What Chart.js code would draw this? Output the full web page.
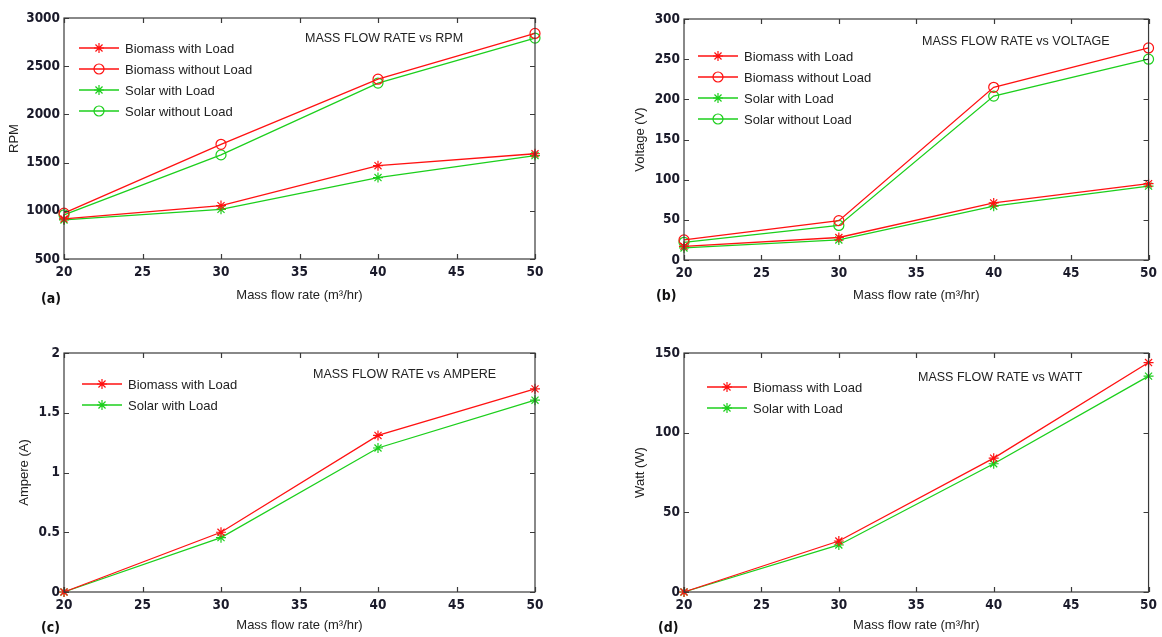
<!DOCTYPE html>
<html>
<head>
<meta charset="utf-8">
<script src="https://cdn.jsdelivr.net/npm/chart.js@4.4.0/dist/chart.umd.min.js"></script>
<style>
body { margin: 0; background: #fff; width: 1162px; height: 637px; position: relative; overflow: hidden; }
.panel { position: absolute; }
.tag { position: absolute; font: bold 14px 'DejaVu Sans Condensed', sans-serif; color: #111; }
</style>
</head>
<body>
<div class="panel" style="left:0;top:0"><canvas id="grafRpm" width="580" height="318"></canvas></div>
<div class="panel" style="left:580px;top:0"><canvas id="grafVolt" width="582" height="318"></canvas></div>
<div class="panel" style="left:0;top:330px"><canvas id="grafAmp" width="580" height="307"></canvas></div>
<div class="panel" style="left:580px;top:330px"><canvas id="grafWatt" width="582" height="307"></canvas></div>
<div class="tag" style="left:41px;top:290px">(a)</div>
<div class="tag" style="left:656px;top:287px">(b)</div>
<div class="tag" style="left:41px;top:619px">(c)</div>
<div class="tag" style="left:658px;top:619px">(d)</div>
<script>
// Datos
const flujo = [20, 30, 40, 50];

const rpmBiomasaCarga = [916, 1054, 1468, 1592];
const rpmBiomasaSinCarga = [975, 1690, 2365, 2840];
const rpmSolarCarga = [905, 1015, 1345, 1573];
const rpmSolarSinCarga = [958, 1580, 2325, 2792];

const voltBiomasaCarga = [17, 28, 71, 95];
const voltBiomasaSinCarga = [25, 49, 215, 264];
const voltSolarCarga = [15, 25, 67, 92];
const voltSolarSinCarga = [22, 43, 204, 250];

const ampBiomasaCarga = [0, 0.5, 1.31, 1.7];
const ampSolarCarga = [0, 0.455, 1.205, 1.605];

const wattBiomasaCarga = [0, 32, 84, 144];
const wattSolarCarga = [0, 29.5, 80.5, 135.5];

const ticksFlujo = { min: 20, max: 50, step: 5 };

const ROJO = '#ff1111';
const VERDE = '#1ccf1c';
const fuenteTicks = "'Liberation Sans Narrow', 'DejaVu Sans Condensed', sans-serif";
const fuenteTexto = "'Liberation Sans', Arial, sans-serif";

function puntos(valores) {
    return flujo.map((x, i) => ({ x: x, y: valores[i] }));
}

function serie(label, valores, color, estilo) {
    return {
        label: label,
        data: puntos(valores),
        borderColor: color,
        backgroundColor: color,
        borderWidth: 1.3,
        pointStyle: estilo,
        pointRadius: 5,
        pointBorderWidth: 1.2,
        pointBorderColor: color,
        pointBackgroundColor: 'rgba(0,0,0,0)',
        tension: 0,
        clip: false
    };
}

function marcador(ctx, estilo, x, y, r) {
    ctx.beginPath();
    if (estilo === 'circle') {
        ctx.arc(x, y, r, 0, Math.PI * 2);
    } else {
        for (let k = 0; k < 4; k++) {
            const ang = k * Math.PI / 4;
            ctx.moveTo(x - r * Math.cos(ang), y - r * Math.sin(ang));
            ctx.lineTo(x + r * Math.cos(ang), y + r * Math.sin(ang));
        }
    }
    ctx.stroke();
}

// Marco estilo MATLAB, titulo interno y leyenda
const marcoMatlab = {
    id: 'marcoMatlab',
    afterDatasetsDraw(chart, args, opts) {
        const { ctx, chartArea: a, scales } = chart;
        ctx.save();
        ctx.strokeStyle = '#3a3a3a';
        ctx.lineWidth = 1.2;
        ctx.strokeRect(a.left, a.top, a.right - a.left, a.bottom - a.top);
        ctx.beginPath();
        scales.x.ticks.forEach(t => {
            const px = Math.round(scales.x.getPixelForValue(t.value)) + 0.5;
            ctx.moveTo(px, a.bottom); ctx.lineTo(px, a.bottom - 5);
            ctx.moveTo(px, a.top); ctx.lineTo(px, a.top + 5);
        });
        scales.y.ticks.forEach(t => {
            const py = Math.round(scales.y.getPixelForValue(t.value)) + 0.5;
            ctx.moveTo(a.left, py); ctx.lineTo(a.left + 5, py);
            ctx.moveTo(a.right, py); ctx.lineTo(a.right - 5, py);
        });
        ctx.stroke();

        ctx.fillStyle = '#222';
        ctx.textBaseline = 'middle';
        ctx.font = '12.5px ' + fuenteTexto;
        ctx.fillText(opts.titulo, a.left + opts.tituloX, a.top + opts.tituloY);

        ctx.font = '13px ' + fuenteTexto;
        chart.data.datasets.forEach((ds, i) => {
            const y = a.top + opts.leyendaY + i * 21;
            const x0 = a.left + opts.leyendaX;
            ctx.strokeStyle = ds.borderColor;
            ctx.lineWidth = 1.3;
            ctx.beginPath();
            ctx.moveTo(x0, y); ctx.lineTo(x0 + 40, y);
            ctx.stroke();
            ctx.lineWidth = 1.2;
            marcador(ctx, ds.pointStyle, x0 + 20, y, 5);
            ctx.fillStyle = '#222';
            ctx.fillText(ds.label, x0 + 46, y + 1);
        });
        ctx.restore();
    }
};

const fmt = v => String(v);

function crearGrafico(id, datasets, eje, panel) {
    return new Chart(document.getElementById(id), {
        type: 'line',
        data: { datasets: datasets },
        options: {
            responsive: false,
            animation: false,
            layout: { padding: { top: panel.arriba, right: panel.derecha, left: panel.izq, bottom: 0 } },
            scales: {
                x: {
                    type: 'linear',
                    min: ticksFlujo.min,
                    max: ticksFlujo.max,
                    grid: { display: false, drawTicks: false },
                    border: { display: false },
                    ticks: { stepSize: ticksFlujo.step, padding: 5, color: '#1a1a2a', callback: fmt, font: { family: fuenteTicks, size: 13.5, weight: 'bold' } },
                    title: { display: true, text: 'Mass flow rate (m³/hr)', color: '#222', font: { family: fuenteTexto, size: 13 }, padding: { top: 0, bottom: panel.tituloXPad } },
                    afterFit: s => { s.height = panel.altoX; }
                },
                y: {
                    min: eje.min,
                    max: eje.max,
                    grid: { display: false, drawTicks: false },
                    border: { display: false },
                    ticks: { stepSize: eje.step, padding: 4, color: '#1a1a2a', callback: fmt, font: { family: fuenteTicks, size: 13.5, weight: 'bold' } },
                    title: { display: true, text: eje.titulo, color: '#222', font: { family: fuenteTexto, size: 13 }, padding: { top: panel.tituloYPad, bottom: 0 } },
                    afterFit: s => { s.width = panel.anchoY; }
                }
            },
            plugins: {
                legend: { display: false },
                tooltip: { enabled: false },
                marcoMatlab: panel.marco
            }
        },
        plugins: [marcoMatlab]
    });
}

crearGrafico('grafRpm', [
    serie('Biomass with Load', rpmBiomasaCarga, ROJO, 'star'),
    serie('Biomass without Load', rpmBiomasaSinCarga, ROJO, 'circle'),
    serie('Solar with Load', rpmSolarCarga, VERDE, 'star'),
    serie('Solar without Load', rpmSolarSinCarga, VERDE, 'circle')
], { min: 500, max: 3000, step: 500, titulo: 'RPM' }, {
    arriba: 18, derecha: 45, izq: 0, anchoY: 64, altoX: 59, tituloXPad: 15, tituloYPad: 7,
    marco: { titulo: 'MASS FLOW RATE vs RPM', tituloX: 241, tituloY: 21, leyendaX: 15, leyendaY: 30 }
});

crearGrafico('grafVolt', [
    serie('Biomass with Load', voltBiomasaCarga, ROJO, 'star'),
    serie('Biomass without Load', voltBiomasaSinCarga, ROJO, 'circle'),
    serie('Solar with Load', voltSolarCarga, VERDE, 'star'),
    serie('Solar without Load', voltSolarSinCarga, VERDE, 'circle')
], { min: 0, max: 300, step: 50, titulo: 'Voltage (V)' }, {
    arriba: 19, derecha: 8, izq: 44, anchoY: 60, altoX: 58, tituloXPad: 15, tituloYPad: 9,
    marco: { titulo: 'MASS FLOW RATE vs VOLTAGE', tituloX: 238, tituloY: 23, leyendaX: 14, leyendaY: 37 }
});

crearGrafico('grafAmp', [
    serie('Biomass with Load', ampBiomasaCarga, ROJO, 'star'),
    serie('Solar with Load', ampSolarCarga, VERDE, 'star')
], { min: 0, max: 2, step: 0.5, titulo: 'Ampere (A)' }, {
    arriba: 23, derecha: 45, izq: 0, anchoY: 64, altoX: 45, tituloXPad: 4, tituloYPad: 17,
    marco: { titulo: 'MASS FLOW RATE vs AMPERE', tituloX: 249, tituloY: 22, leyendaX: 18, leyendaY: 31 }
});

crearGrafico('grafWatt', [
    serie('Biomass with Load', wattBiomasaCarga, ROJO, 'star'),
    serie('Solar with Load', wattSolarCarga, VERDE, 'star')
], { min: 0, max: 150, step: 50, titulo: 'Watt (W)' }, {
    arriba: 23, derecha: 8, izq: 44, anchoY: 60, altoX: 45, tituloXPad: 4, tituloYPad: 9,
    marco: { titulo: 'MASS FLOW RATE vs WATT', tituloX: 234, tituloY: 25, leyendaX: 23, leyendaY: 34 }
});
</script>
</body>
</html>
